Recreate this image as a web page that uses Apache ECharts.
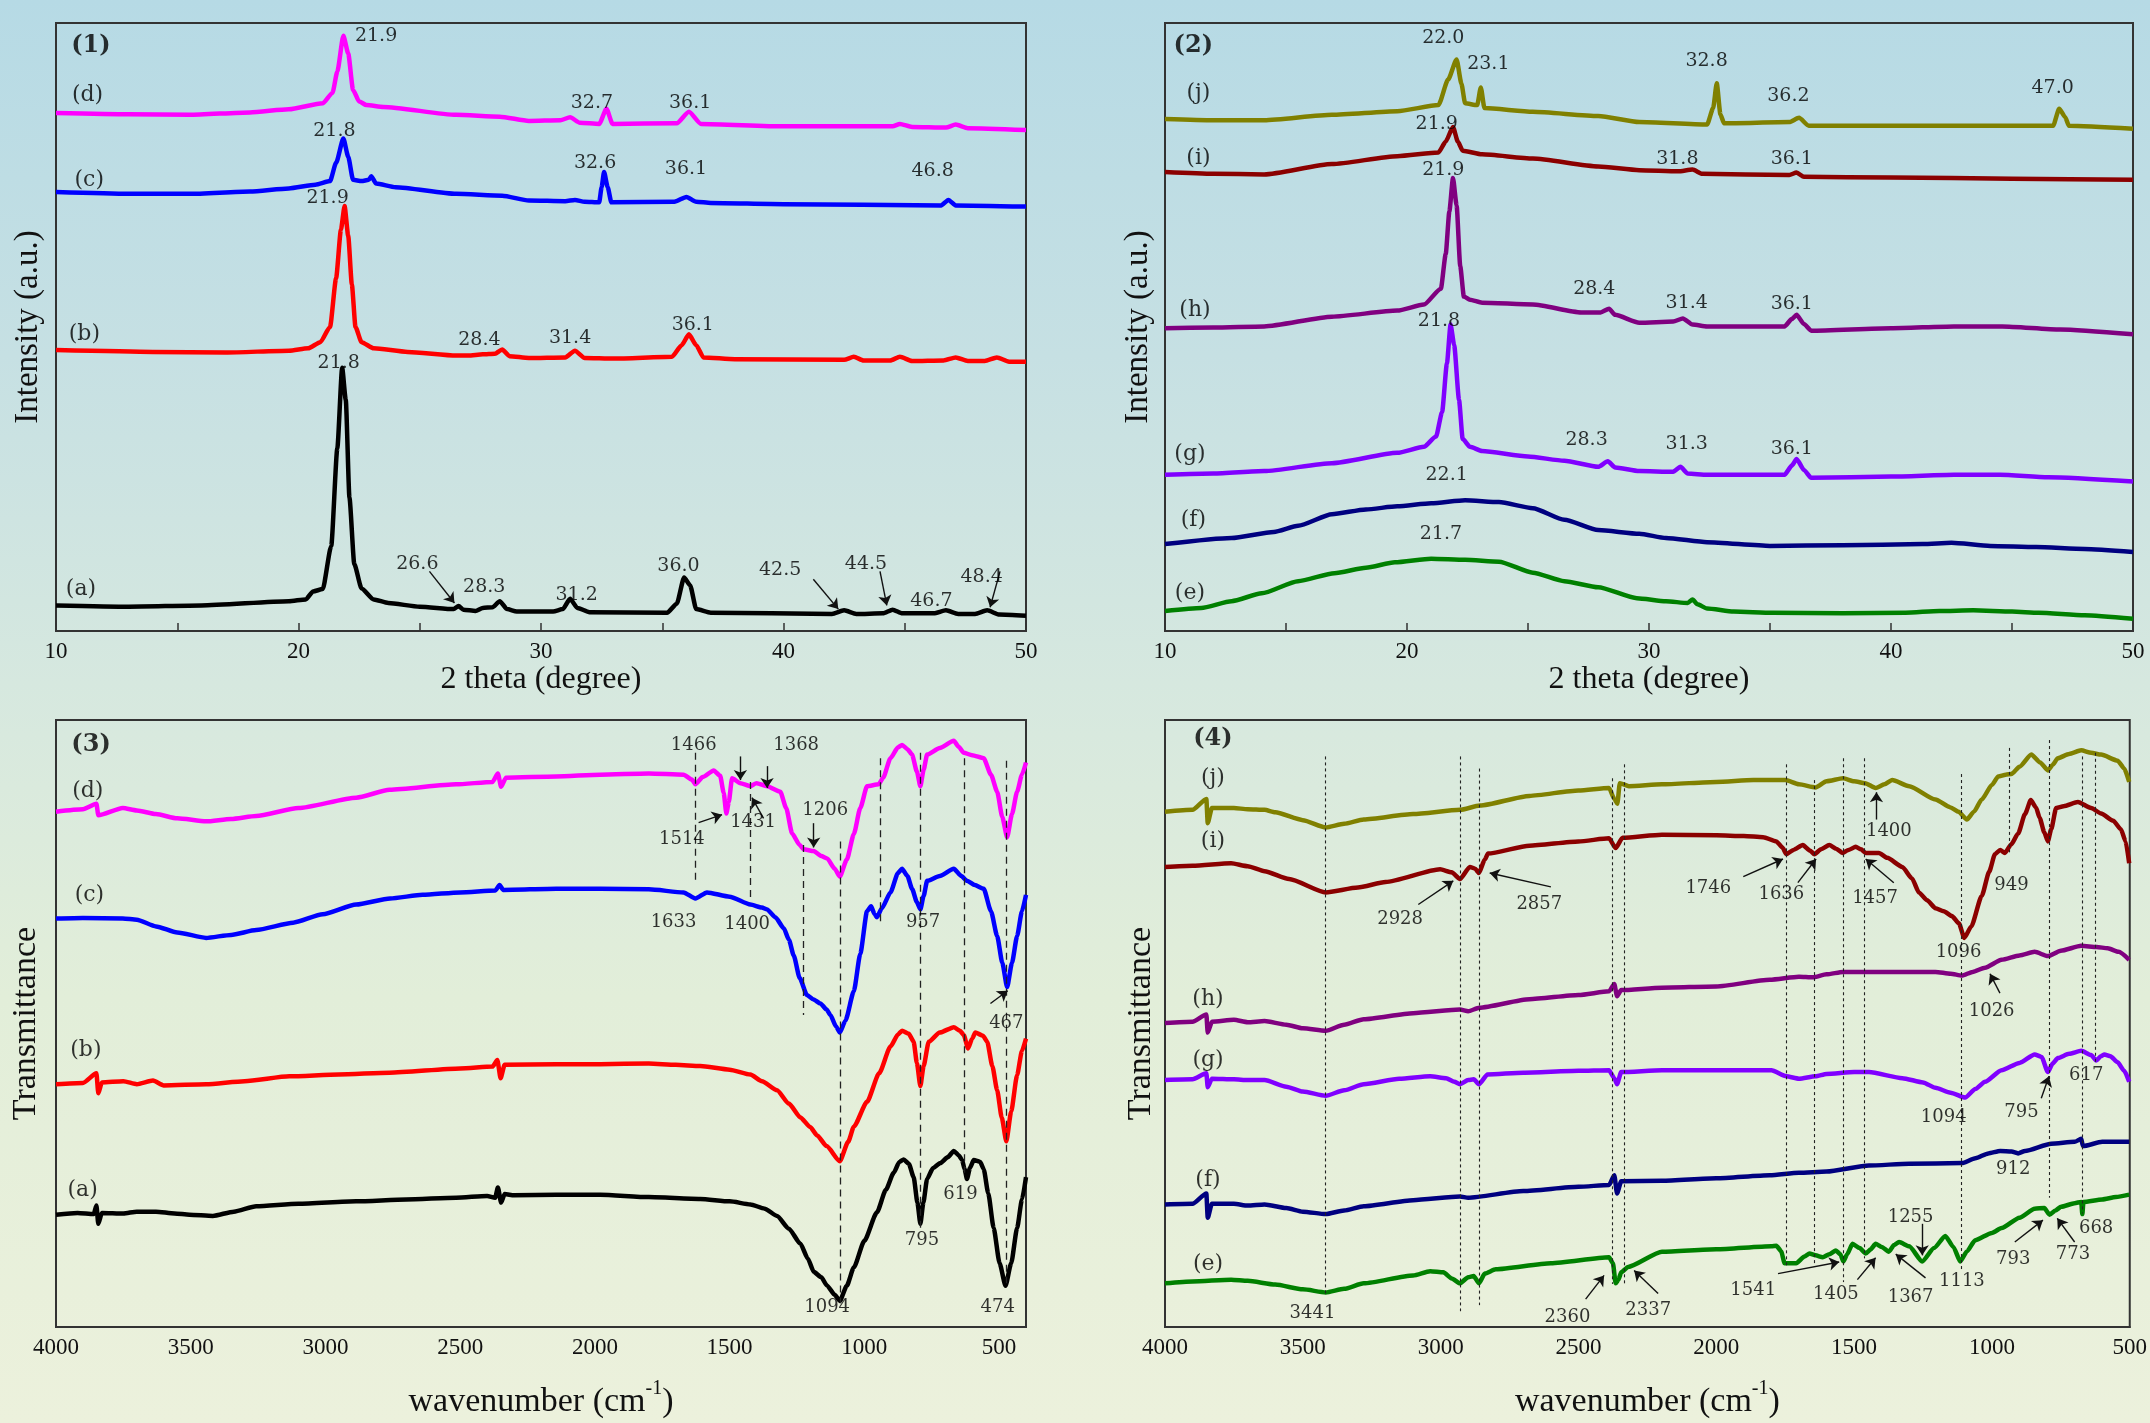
<!DOCTYPE html>
<html>
<head>
<meta charset="utf-8">
<title>XRD / FTIR</title>
<script src="https://cdn.jsdelivr.net/npm/echarts@6/dist/echarts.min.js"></script>
<style>
  html, body { margin: 0; padding: 0; }
  body {
    background: linear-gradient(to bottom, #b6dae5 0%, #c6e0e3 25%, #d6e8df 48%, #e2eed9 70%, #ecf1dc 100%);
  }
  #chart { width: 2150px; height: 1423px; }
</style>
</head>
<body>
<div id="chart"></div>
<script>
// ---- panel (1): XRD, 2 theta vs intensity (a.u., 0-100 of the frame height)
const xrdA = [[10,4.2],[13,4.0],[16,4.2],[19.6,4.9],[20.3,5.2],[20.6,6.5],[21.0,6.9],[21.35,14],[21.6,30],[21.8,43.3],[21.95,38],[22.1,22],[22.3,11],[22.6,7],[23.1,5.2],[23.7,4.6],[25,4.0],[26.4,3.6],[26.6,4.1],[26.8,3.5],[27.3,3.3],[27.6,3.8],[28.0,3.9],[28.3,4.9],[28.6,3.6],[29,3.2],[30.5,3.2],[30.9,3.6],[31.2,5.3],[31.5,3.8],[32,3.1],[35.2,3.0],[35.6,4.5],[35.9,8.8],[36.15,7.5],[36.4,3.6],[37,3.0],[42.0,2.8],[42.5,3.4],[43,2.8],[44.1,2.9],[44.5,3.5],[44.9,2.9],[46.2,2.9],[46.7,3.4],[47.2,2.8],[47.9,2.8],[48.4,3.4],[48.9,2.7],[50,2.5]];
const xrdB = [[10,46.2],[14,45.9],[17,45.8],[19.6,46.1],[20.4,46.5],[20.9,47.5],[21.3,50],[21.55,58],[21.75,66],[21.9,69.9],[22.05,65],[22.2,57],[22.35,50],[22.6,47.5],[23.1,46.5],[24.5,45.9],[26.5,45.3],[27.0,45.3],[27.6,45.5],[28.1,45.6],[28.4,46.3],[28.7,45.2],[29.5,44.9],[31.0,45.0],[31.4,46.1],[31.8,44.9],[33,44.8],[35.4,45.1],[35.8,47],[36.1,48.8],[36.4,47.0],[36.7,45.0],[38,44.7],[42.5,44.6],[42.9,45.1],[43.3,44.5],[44.4,44.5],[44.8,45.1],[45.3,44.4],[46.6,44.5],[47.1,45.0],[47.6,44.4],[48.3,44.4],[48.8,45.0],[49.3,44.3],[50,44.3]];
const xrdC = [[10,72.2],[13,71.9],[15.5,71.9],[18,72.3],[19.6,72.8],[20.7,73.4],[21.3,74],[21.55,77],[21.85,81.0],[22.05,78],[22.25,74.2],[22.6,74.0],[22.9,74.2],[23.0,74.8],[23.2,73.6],[24,73.0],[26.5,71.9],[28.4,71.6],[29.5,70.8],[31.0,70.7],[31.4,70.9],[31.8,70.6],[32.4,70.5],[32.5,73],[32.6,75.5],[32.75,73],[32.9,70.5],[35.5,70.6],[36.0,71.4],[36.4,70.6],[37,70.4],[40,70.2],[46.5,70.0],[46.8,70.9],[47.1,70.0],[50,69.8]];
const xrdD = [[10,85.2],[13,85.0],[15.5,84.9],[18,85.3],[19.6,85.8],[21.0,86.8],[21.4,88.5],[21.6,92],[21.85,97.9],[22.05,95],[22.25,89],[22.5,87.1],[22.8,86.5],[23.5,86.2],[26.5,84.9],[28.3,84.6],[29.5,83.9],[30.8,84.0],[31.2,84.5],[31.6,83.6],[32.4,83.4],[32.7,85.9],[32.95,83.4],[35.6,83.5],[36.1,85.4],[36.6,83.4],[40,83.0],[44.5,83.0],[44.8,83.4],[45.3,82.9],[46.7,82.8],[47.1,83.3],[47.6,82.7],[50,82.4]];

// ---- panel (2)
const xrdE = [[10,3.3],[11.5,3.8],[12.75,4.9],[14,6.2],[15.5,8.2],[17,9.5],[18.3,10.4],[19.5,11.3],[21,11.9],[22.4,11.7],[23.8,11.4],[25.2,9.6],[26.5,8.2],[27.9,7.2],[29.5,5.4],[30.7,4.9],[31.6,4.6],[31.8,5.2],[32.0,4.4],[32.4,3.7],[33.5,3.2],[35.1,3.0],[38,2.9],[40.6,3.0],[42,3.3],[43.4,3.4],[45,3.2],[46.1,3.0],[48,2.6],[50,2.0]];
const xrdF = [[10,14.3],[12.75,15.3],[14.5,16.3],[15.5,17.3],[16.9,19.2],[18.3,20.0],[19.6,20.5],[21,21.0],[22.4,21.5],[23.8,21.2],[25.2,20.2],[26.5,18.3],[27.9,16.6],[29.6,16.0],[30.7,15.3],[32.4,14.6],[35,14.0],[38,14.1],[41.3,14.3],[42.5,14.5],[44.1,14.0],[46,13.8],[48,13.5],[50,13.0]];
const xrdG = [[10,25.7],[12,25.9],[14.1,26.3],[16.9,27.6],[19.6,29.3],[20.7,30.3],[21.2,32],[21.45,36],[21.65,44],[21.8,50.4],[21.95,47],[22.15,38],[22.3,31.6],[22.6,30.3],[23.1,29.6],[25,28.7],[26.5,28.0],[27.9,27.0],[28.3,27.9],[28.6,26.9],[29.6,26.3],[31.0,26.2],[31.3,27.0],[31.6,25.9],[32.4,25.7],[35.6,25.7],[35.9,27.2],[36.1,28.3],[36.4,26.5],[36.7,25.2],[40,25.4],[42.6,25.7],[44.5,25.7],[46.5,25.3],[50,24.6]];
const xrdH = [[10,49.8],[12,49.9],[14.1,50.1],[16.9,51.7],[19.6,52.7],[20.7,53.7],[21.4,56.3],[21.6,62],[21.75,69],[21.9,74.5],[22.05,70],[22.2,60],[22.35,55],[22.6,54.5],[23.1,54.0],[25.2,53.7],[27.2,52.4],[28.0,52.4],[28.35,53.0],[28.6,52.0],[29.6,50.7],[31.0,50.9],[31.4,51.4],[31.8,50.4],[32.4,50.1],[35.6,50.1],[35.9,51.3],[36.1,52.0],[36.4,50.5],[36.7,49.4],[40,49.8],[42.6,50.1],[44.6,50.1],[47,49.6],[50,48.8]];
const xrdI = [[10,75.5],[12,75.2],[14.1,75.1],[16.9,76.8],[19.6,78.1],[21.3,78.7],[21.6,80.5],[21.9,82.9],[22.1,80.5],[22.3,79.0],[23.1,78.4],[25.2,77.7],[27.9,76.4],[29.6,75.8],[31.2,75.6],[31.8,75.9],[32.2,75.2],[35.8,75.0],[36.1,75.4],[36.4,74.7],[40,74.6],[45,74.4],[50,74.2]];
const xrdJ = [[10,84.2],[12,84.0],[14.1,84.0],[16.9,84.9],[19.6,85.5],[21.3,86.5],[21.7,90.7],[22.05,94.0],[22.25,90],[22.4,86.8],[22.9,86.5],[23.05,89.4],[23.2,86.0],[25.2,85.4],[27.9,84.7],[29.6,83.7],[32.4,83.3],[32.65,86],[32.8,90.1],[32.95,85],[33.1,83.5],[35.8,83.7],[36.2,84.4],[36.6,83.1],[40,83.1],[46.7,83.1],[46.95,85.9],[47.2,84.5],[47.35,83.1],[50,82.6]];

// ---- panel (3): FTIR, wavenumber vs transmittance (0-100 of the frame height)
const irA = [[4000,18.5],[3920,18.8],[3860,18.6],[3850,20.0],[3843,17.0],[3830,18.8],[3750,18.7],[3700,19.0],[3629,19.0],[3560,18.7],[3505,18.5],[3418,18.3],[3340,19.0],[3257,19.9],[3100,20.3],[2886,20.7],[2700,21.0],[2515,21.3],[2400,21.6],[2370,21.3],[2360,23.0],[2348,20.5],[2335,21.9],[2300,21.7],[2143,21.8],[1980,21.8],[1800,21.4],[1609,21.1],[1500,20.7],[1423,20.2],[1370,19.5],[1324,18.3],[1280,16.2],[1237,13.7],[1210,11.3],[1188,9.1],[1160,8.2],[1138,6.8],[1110,5.3],[1091,4.3],[1065,6.8],[1039,9.8],[1000,14.2],[953,18.9],[920,22.6],[891,25.4],[870,27.2],[854,27.6],[835,26.9],[817,24.7],[803,20.5],[792,17.0],[781,20.5],[767,24.4],[745,26.2],[718,27.0],[690,28.0],[668,29.0],[650,28.3],[637,27.5],[628,26.0],[619,24.4],[608,26.2],[594,27.5],[570,27.2],[557,26.0],[540,22.0],[520,16.3],[498,10.5],[476,6.8],[455,10.5],[433,16.3],[415,21.0],[400,24.7]];
const irB = [[4000,40.0],[3900,40.2],[3850,41.8],[3843,38.5],[3830,40.3],[3750,40.5],[3700,40.0],[3640,40.6],[3600,39.8],[3443,40.0],[3300,40.5],[3134,41.3],[2950,41.6],[2762,41.9],[2500,42.6],[2380,42.9],[2362,44.0],[2350,41.0],[2335,43.2],[2143,43.3],[1980,43.3],[1800,43.4],[1700,43.2],[1609,43.0],[1500,42.4],[1423,41.6],[1380,40.5],[1324,39.0],[1280,36.8],[1237,34.5],[1200,32.9],[1176,31.6],[1140,29.8],[1091,27.3],[1060,30.5],[1039,33.0],[990,37.1],[945,41.8],[903,46.2],[875,48.2],[860,48.8],[835,48.3],[817,47.0],[805,43.5],[792,39.7],[780,43.0],[761,47.0],[720,48.5],[668,49.4],[645,48.8],[631,48.1],[615,45.9],[600,47.5],[588,48.5],[560,48.0],[544,47.0],[525,43.0],[507,39.0],[490,34.5],[473,30.6],[455,35.5],[433,41.5],[415,45.5],[400,47.5]];
const irC = [[4000,67.3],[3900,67.4],[3752,67.3],[3700,67.1],[3629,66.0],[3550,65.0],[3443,64.1],[3350,64.6],[3257,65.4],[3120,66.6],[3010,68.0],[2886,69.6],[2760,70.6],[2639,71.2],[2500,71.6],[2370,71.9],[2354,72.8],[2340,72.0],[2143,72.2],[1980,72.2],[1800,72.1],[1671,71.6],[1627,70.6],[1584,71.6],[1500,70.9],[1423,69.6],[1380,69.1],[1361,68.8],[1330,67.5],[1299,65.7],[1280,63.8],[1262,61.2],[1240,57.5],[1213,54.7],[1190,54.0],[1163,53.3],[1140,52.3],[1126,51.4],[1105,49.5],[1091,48.5],[1070,50.5],[1039,55.3],[1015,61.5],[990,68.5],[975,69.3],[962,68.0],[953,67.5],[935,69.0],[903,71.6],[875,74.8],[860,75.5],[840,74.3],[823,72.2],[805,70.0],[792,68.8],[780,71.0],[767,73.5],[720,74.3],[668,75.5],[640,74.3],[619,73.5],[590,72.8],[557,72.2],[530,68.5],[507,64.4],[488,60.0],[470,56.0],[452,60.0],[433,64.4],[415,68.5],[400,71.2]];
const irD = [[4000,84.9],[3900,85.3],[3850,86.2],[3843,84.3],[3752,85.5],[3700,85.1],[3629,84.5],[3550,83.8],[3443,83.3],[3350,83.7],[3257,84.2],[3100,85.5],[2886,87.2],[2762,88.5],[2515,89.4],[2380,89.8],[2360,91.2],[2348,89.0],[2330,90.5],[2143,90.7],[1980,91.0],[1800,91.2],[1671,91.0],[1640,90.2],[1627,89.4],[1600,90.6],[1559,91.7],[1535,90.8],[1522,88.0],[1512,84.6],[1503,86.5],[1491,90.4],[1460,89.6],[1423,89.1],[1400,89.6],[1361,89.1],[1312,88.2],[1290,85.5],[1268,81.3],[1240,79.4],[1225,78.7],[1188,78.4],[1160,77.6],[1138,77.2],[1110,75.5],[1091,74.2],[1065,77.0],[1039,81.2],[1015,85.5],[990,89.1],[947,89.4],[930,90.5],[903,93.7],[875,95.5],[860,95.9],[840,95.2],[823,94.3],[805,91.5],[792,89.1],[780,91.8],[767,94.3],[720,95.4],[668,96.6],[650,95.6],[631,94.6],[600,94.2],[557,93.7],[530,91.0],[507,88.2],[488,84.0],[470,80.7],[452,84.5],[433,88.2],[415,91.0],[400,93.0]];

// ---- panel (4)
const irE = [[4000,7.2],[3900,7.5],[3760,7.8],[3700,7.6],[3600,7.0],[3500,6.2],[3417,5.7],[3350,6.3],[3279,7.2],[3100,8.5],[3038,9.2],[2990,9.0],[2960,8.0],[2930,7.2],[2900,8.2],[2880,8.4],[2861,7.2],[2840,8.8],[2800,9.5],[2600,10.5],[2389,11.5],[2375,10.5],[2365,7.2],[2355,7.8],[2345,9.0],[2320,9.9],[2197,12.4],[2000,12.8],[1800,13.3],[1782,13.4],[1765,12.5],[1752,10.5],[1710,10.5],[1680,11.6],[1662,12.1],[1640,11.8],[1614,11.5],[1590,12.0],[1566,12.6],[1550,12.0],[1539,10.8],[1525,12.0],[1506,13.7],[1480,13.0],[1458,12.1],[1440,12.8],[1422,13.7],[1400,13.2],[1374,12.4],[1355,13.5],[1337,14.0],[1300,13.3],[1253,10.8],[1210,13.0],[1169,15.0],[1140,13.2],[1115,10.8],[1090,12.5],[1061,14.3],[1000,15.5],[965,16.3],[900,18.0],[845,19.5],[810,19.6],[791,18.5],[770,19.2],[749,19.8],[700,20.4],[676,20.6],[672,18.6],[668,20.6],[600,21.0],[550,21.4],[502,21.8]];
const irF = [[4000,20.2],[3900,20.3],[3850,22.0],[3845,18.0],[3830,20.3],[3750,20.3],[3700,20.0],[3639,20.2],[3560,19.6],[3500,19.0],[3417,18.6],[3350,19.2],[3279,19.9],[3100,20.9],[2930,21.5],[2900,21.3],[2700,22.4],[2500,23.1],[2389,23.4],[2370,25.0],[2360,22.0],[2345,24.0],[2197,24.1],[2000,24.5],[1806,25.0],[1700,25.4],[1600,25.6],[1446,26.6],[1300,26.9],[1109,27.0],[1060,27.8],[1013,28.6],[970,29.0],[929,28.9],[905,28.6],[880,29.0],[785,30.2],[700,30.5],[676,31.0],[670,29.8],[600,30.5],[502,30.5]];
const irG = [[4000,40.7],[3900,40.8],[3850,41.8],[3845,39.5],[3830,40.9],[3750,40.8],[3700,40.7],[3639,40.7],[3560,39.6],[3500,38.8],[3417,38.1],[3350,39.0],[3279,40.0],[3150,40.9],[3038,41.3],[2980,41.0],[2950,40.4],[2930,40.0],[2900,40.7],[2880,40.8],[2861,40.0],[2830,41.6],[2700,41.9],[2500,42.2],[2389,42.3],[2370,41.0],[2360,40.0],[2345,42.0],[2197,42.3],[2000,42.3],[1800,42.3],[1746,41.3],[1700,40.9],[1640,41.3],[1600,41.7],[1500,42.0],[1446,42.0],[1325,41.0],[1250,40.3],[1205,39.4],[1150,38.6],[1097,37.8],[1060,39.2],[1025,40.4],[965,42.3],[900,43.5],[845,44.9],[820,44.5],[797,42.0],[780,43.4],[761,44.3],[720,45.0],[676,45.5],[640,44.8],[622,43.9],[605,44.6],[592,44.9],[570,44.6],[544,43.6],[520,42.2],[502,40.4]];
const irH = [[4000,50.1],[3900,50.3],[3850,51.5],[3845,48.5],[3830,50.3],[3750,50.6],[3700,50.2],[3639,50.4],[3560,49.8],[3500,49.2],[3417,48.8],[3350,49.8],[3279,50.7],[3100,51.7],[2930,52.3],[2900,52.0],[2860,52.6],[2678,54.0],[2500,54.7],[2389,55.3],[2370,56.5],[2360,54.5],[2345,55.5],[2197,55.9],[2000,56.1],[1806,57.2],[1700,57.7],[1650,57.6],[1600,58.1],[1540,58.5],[1446,58.5],[1300,58.5],[1205,58.5],[1150,58.2],[1109,57.9],[1070,58.5],[1025,59.2],[965,60.5],[900,61.2],[845,61.8],[797,61.1],[750,62.0],[676,62.8],[620,62.6],[580,62.4],[540,61.8],[502,60.5]];
const irI = [[4000,75.8],[3900,76.0],[3760,76.4],[3700,75.9],[3639,75.1],[3550,73.8],[3417,71.6],[3300,72.4],[3200,73.3],[3002,75.4],[2960,74.9],[2930,73.8],[2894,75.8],[2875,75.5],[2861,74.8],[2840,77.0],[2828,78.0],[2678,79.3],[2500,80.0],[2389,80.5],[2365,78.9],[2340,80.6],[2197,81.1],[2000,81.0],[1900,80.9],[1830,80.7],[1782,80.0],[1760,79.0],[1746,77.9],[1720,78.6],[1686,79.4],[1660,78.5],[1644,77.9],[1620,78.7],[1590,79.4],[1565,78.8],[1542,78.1],[1520,78.6],[1494,79.1],[1475,78.7],[1458,78.1],[1410,78.1],[1380,77.3],[1325,75.8],[1290,73.9],[1265,71.6],[1235,70.3],[1205,69.0],[1175,68.5],[1145,67.7],[1120,66.5],[1100,64.1],[1075,66.0],[1037,71.0],[1010,75.0],[989,77.9],[970,78.6],[953,78.1],[930,79.5],[905,81.3],[880,84.5],[859,86.8],[840,85.6],[827,83.9],[810,81.5],[797,80.0],[785,82.0],[767,85.5],[740,85.8],[688,86.5],[640,85.5],[604,84.6],[560,83.4],[532,82.0],[515,80.0],[502,76.4]];
const irJ = [[4000,84.9],[3900,85.2],[3850,87.0],[3845,83.0],[3830,85.5],[3750,85.5],[3700,85.3],[3639,85.2],[3600,84.8],[3500,83.5],[3417,82.3],[3350,82.9],[3279,83.6],[3100,84.5],[2930,85.2],[2858,85.9],[2678,87.5],[2500,88.4],[2389,88.8],[2370,87.0],[2359,86.2],[2350,89.6],[2317,89.1],[2197,89.4],[2000,89.8],[1866,90.1],[1750,90.1],[1700,89.4],[1640,88.9],[1600,89.9],[1540,90.4],[1500,89.9],[1460,89.6],[1422,88.8],[1390,89.4],[1362,90.1],[1300,89.1],[1205,86.9],[1150,85.6],[1121,84.9],[1091,83.6],[1065,84.9],[1037,86.9],[1000,89.3],[977,90.7],[950,91.0],[929,91.1],[900,92.3],[857,94.3],[825,93.0],[797,91.7],[780,92.6],[761,93.7],[720,94.4],[676,95.0],[640,94.6],[604,94.3],[544,93.3],[520,92.0],[502,89.8]];

// ---- annotations: [x, y, text]
const panelTags = [[11.44, 96.2, '(1)'], [11.17, 96.2, '(2)'], [3870, 95.9, '(3)'], [3826, 96.9, '(4)']];
const xrd1Tags = [[11.03,6.8,'(a)'],[11.17,48.8,'(b)'],[11.37,74.1,'(c)'],[11.3,88.1,'(d)']];
const xrd1Peaks = [[23.2,97.9,'21.9'],[21.48,82.2,'21.8'],[21.2,71.2,'21.9'],[21.66,44.0,'21.8'],[24.9,11.0,'26.6'],[27.66,7.2,'28.3'],[27.46,47.8,'28.4'],[32.1,86.8,'32.7'],[36.15,86.8,'36.1'],[32.23,76.9,'32.6'],[35.98,75.9,'36.1'],[46.15,75.6,'46.8'],[31.2,48.2,'31.4'],[36.26,50.3,'36.1'],[31.47,5.9,'31.2'],[35.67,10.7,'36.0'],[39.86,10.1,'42.5'],[43.4,11.0,'44.5'],[46.1,4.9,'46.7'],[48.17,8.9,'48.4']];
const xrd2Tags = [[11.03,6.2,'(e)'],[11.17,18.2,'(f)'],[11.03,29.0,'(g)'],[11.24,52.7,'(h)'],[11.38,77.7,'(i)'],[11.38,88.5,'(j)']];
const xrd2Peaks = [[21.5,97.6,'22.0'],[23.36,93.2,'23.1'],[21.23,83.4,'21.9'],[21.5,75.8,'21.9'],[21.32,50.9,'21.8'],[27.74,56.3,'28.4'],[27.42,31.4,'28.3'],[21.64,25.7,'22.1'],[21.4,15.9,'21.7'],[32.38,93.7,'32.8'],[35.76,88.0,'36.2'],[46.68,89.3,'47.0'],[31.17,77.7,'31.8'],[35.9,77.6,'36.1'],[31.56,54.0,'31.4'],[35.9,53.7,'36.1'],[31.56,30.8,'31.3'],[35.9,29.9,'36.1']];
const ir3Tags = [[3901,22.5,'(a)'],[3889,45.6,'(b)'],[3876,71.2,'(c)'],[3882,88.2,'(d)']];
const ir3Peaks = [[1633,95.8,'1466'],[1253,95.8,'1368'],[1677,80.3,'1514'],[1413,83.1,'1431'],[1145,85.2,'1206'],[1708,66.7,'1633'],[1435,66.4,'1400'],[782,66.7,'957'],[473,50.1,'467'],[1138,3.3,'1094'],[786,14.3,'795'],[643,21.8,'619'],[505,3.3,'474']];
const ir4Tags = [[3844,10.4,'(e)'],[3844,24.1,'(f)'],[3844,43.9,'(g)'],[3844,54.0,'(h)'],[3826,80.1,'(i)'],[3826,90.4,'(j)']];
const ir4Peaks = [[3147,67.1,'2928'],[2642,69.7,'2857'],[3465,2.3,'3441'],[2540,1.6,'2360'],[2247,2.8,'2337'],[1374,81.6,'1400'],[2029,72.2,'1746'],[1764,71.2,'1636'],[1424,70.6,'1457'],[1121,61.8,'1096'],[929,72.7,'949'],[1001,52.0,'1026'],[1175,34.5,'1094'],[893,35.4,'795'],[658,41.5,'617'],[923,26.0,'912'],[1295,18.1,'1255'],[622,16.3,'668'],[923,11.2,'793'],[706,11.9,'773'],[1866,6.0,'1541'],[1566,5.4,'1405'],[1295,4.9,'1367'],[1109,7.5,'1113']];

// arrows: [x1, y1, x2, y2] (head at the second point)
const xrd1Arrows = [[25.4,9.8,26.43,4.6],[41.23,8.5,42.26,3.6],[43.98,9.8,44.26,4.2],[48.93,9.8,48.52,3.9]];
const ir3Arrows = [[1615,83.1,1528,84.4],[1374,83.8,1417,87.2],[1460,94.0,1460,90.1],[1361,92.4,1361,88.8],[1188,83.0,1188,79.0],[532,53.3,468,55.4]];
const ir4Arrows = [[3081,69.6,2954,73.5],[2600,72.5,2822,74.8],[2474,4.6,2407,8.5],[2211,5.5,2298,9.3],[1419,83.6,1419,88.1],[1902,74.2,1758,77.1],[1704,73.2,1638,77.1],[1356,73.2,1458,77.1],[971,55.0,1007,58.2],[821,37.7,793,41.3],[1776,8.8,1554,10.7],[1488,7.8,1422,11.4],[1241,8.1,1349,12.0],[1253,17.0,1253,11.8],[917,14.0,815,17.6],[700,14.0,763,17.9]];

// vertical guide lines: [x, yTop, yBottom]
const ir3Guides = [[1627,94.6,72.9],[1423,89.8,70.3],[1225,79.4,51.4],[1091,80.0,3.9],[940,93.7,66.3],[792,94.6,16.3],[629,93.7,25.4],[475,93.3,7.2]];
const ir4Guides = [[3417,94.0,5.3],[2930,94.0,2.6],[2861,92.0,3.6],[2377,90.4,7.1],[2335,92.7,7.1],[1746,92.7,10.0],[1644,90.1,10.3],[1539,93.7,7.4],[1464,93.7,11.3],[1112,91.1,9.3],[938,95.4,78.2],[793,96.7,21.3],[673,94.0,18.7],[625,94.6,43.3]];

const irTicks3 = [4000, 3500, 3000, 2500, 2000, 1500, 1000, 500];

const SERIF = 'Liberation Serif';
const ANNO = 'DejaVu Serif';

const chart = echarts.init(document.getElementById('chart'));

function curve(gi, data, color) {
  return {
    type: 'line', xAxisIndex: gi, yAxisIndex: gi, data: data,
    symbol: 'none', smooth: 0.2, smoothMonotone: 'x', silent: true, z: 3,
    lineStyle: { color: color, width: 4.5, join: 'round' }
  };
}

function texts(gi, list, style) {
  return {
    type: 'scatter', xAxisIndex: gi, yAxisIndex: gi, silent: true, z: 5,
    symbolSize: 1, itemStyle: { color: 'rgba(0,0,0,0)' },
    data: list.map(d => ({ value: [d[0], d[1]], name: d[2] })),
    label: Object.assign({ show: true, position: 'inside', formatter: '{b}', color: '#000' }, style)
  };
}

// arrow shafts and heads come from markLine symbols
function arrows(gi, list) {
  return {
    type: 'scatter', xAxisIndex: gi, yAxisIndex: gi, silent: true, z: 4,
    symbolSize: 0, itemStyle: { color: '#111', opacity: 0 }, data: [list[0].slice(0, 2)],
    markLine: {
      silent: true, animation: false, symbol: ['none', 'arrow'], symbolSize: 10,
      label: { show: false },
      itemStyle: { color: '#111', opacity: 1 },
      lineStyle: { color: '#111', width: 1.4, type: 'solid', opacity: 1 },
      data: list.map(a => [{ coord: [a[0], a[1]] }, { coord: [a[2], a[3]] }])
    }
  };
}

function guides(gi, list, dash, width) {
  return {
    type: 'scatter', xAxisIndex: gi, yAxisIndex: gi, silent: true, z: 1,
    symbolSize: 0, itemStyle: { color: 'rgba(0,0,0,0)' }, data: [[list[0][0], list[0][1]]],
    markLine: {
      silent: true, animation: false, symbol: ['none', 'none'],
      label: { show: false },
      lineStyle: { color: '#222', width: width, type: dash, opacity: 1 },
      data: list.map(g => [{ coord: [g[0], g[1]] }, { coord: [g[0], g[2]] }])
    }
  };
}

const frame = { show: true, borderColor: '#333', borderWidth: 2, backgroundColor: 'transparent' };
const grids = [
  Object.assign({ left: 56, top: 23, width: 970, height: 608 }, frame),
  Object.assign({ left: 1165, top: 23, width: 968, height: 608 }, frame),
  Object.assign({ left: 56, top: 720, width: 970, height: 607 }, frame),
  Object.assign({ left: 1165, top: 720, width: 968, height: 607 }, frame)
];

const plain = v => String(v);
const tickLabel = { color: '#111', fontFamily: SERIF, fontSize: 23, margin: 9, formatter: plain };
const axisLine = { show: true, lineStyle: { color: '#333', width: 2 } };

function xrdAxis(gi) {
  return {
    type: 'value', gridIndex: gi, min: 10, max: 50, interval: 10,
    name: '2 theta (degree)', nameLocation: 'middle', nameGap: 30,
    nameTextStyle: { fontFamily: SERIF, fontSize: 32, color: '#111' },
    axisLine: axisLine,
    axisTick: { show: true, inside: true, length: 8, lineStyle: { color: '#333', width: 1.5 } },
    minorTick: { show: true, splitNumber: 2, length: 8, lineStyle: { color: '#333', width: 1.5 } },
    axisLabel: tickLabel, splitLine: { show: false }
  };
}

const waveName = '{a|wavenumber (cm}{s|-1}{a|)}';
const waveStyle = {
  rich: {
    a: { fontFamily: SERIF, fontSize: 34, color: '#111', lineHeight: 40, verticalAlign: 'bottom' },
    s: { fontFamily: SERIF, fontSize: 20, color: '#111', lineHeight: 40, verticalAlign: 'top' }
  }
};

function irAxis(gi, min, custom) {
  const ax = {
    type: 'value', gridIndex: gi, min: min, max: 4000, inverse: true,
    name: waveName, nameLocation: 'middle', nameGap: 52, nameTextStyle: waveStyle,
    axisLine: axisLine, axisTick: { show: false },
    axisLabel: Object.assign({}, tickLabel), splitLine: { show: false }
  };
  if (custom) ax.axisLabel.customValues = custom;
  else ax.interval = 500;
  return ax;
}

function yAxis(gi, name, size, gap) {
  return {
    type: 'value', gridIndex: gi, min: 0, max: 100,
    name: name, nameLocation: 'middle', nameGap: gap,
    nameTextStyle: { fontFamily: SERIF, fontSize: size, color: '#111' },
    axisLine: axisLine, axisTick: { show: false }, axisLabel: { show: false },
    splitLine: { show: false }
  };
}

const tagStyle = { fontFamily: ANNO, fontSize: 22 };
const peakStyle = { fontFamily: ANNO, fontSize: 19 };
const irPeakStyle = { fontFamily: ANNO, fontSize: 18 };
const boldStyle = { fontFamily: ANNO, fontSize: 24, fontWeight: 'bold' };

chart.setOption({
  animation: false,
  backgroundColor: 'transparent',
  grid: grids,
  xAxis: [xrdAxis(0), xrdAxis(1), irAxis(2, 400, irTicks3), irAxis(3, 500, null)],
  yAxis: [
    yAxis(0, 'Intensity (a.u.)', 33, 11),
    yAxis(1, 'Intensity (a.u.)', 33, 10),
    yAxis(2, 'Transmittance', 34, 13),
    yAxis(3, 'Transmittance', 34, 7)
  ],
  series: [
    curve(0, xrdA, '#000000'), curve(0, xrdB, '#ff0000'), curve(0, xrdC, '#0000ff'), curve(0, xrdD, '#ff00ff'),
    curve(1, xrdE, '#008000'), curve(1, xrdF, '#000080'), curve(1, xrdG, '#8000ff'),
    curve(1, xrdH, '#800080'), curve(1, xrdI, '#8b0000'), curve(1, xrdJ, '#808000'),
    curve(2, irA, '#000000'), curve(2, irB, '#ff0000'), curve(2, irC, '#0000ff'), curve(2, irD, '#ff00ff'),
    curve(3, irE, '#008000'), curve(3, irF, '#000080'), curve(3, irG, '#8000ff'),
    curve(3, irH, '#800080'), curve(3, irI, '#8b0000'), curve(3, irJ, '#808000'),
    guides(2, ir3Guides, [7, 5], 1.3),
    guides(3, ir4Guides, [3, 3], 1.1),
    arrows(0, xrd1Arrows), arrows(2, ir3Arrows), arrows(3, ir4Arrows),
    texts(0, [panelTags[0]], boldStyle), texts(1, [panelTags[1]], boldStyle),
    texts(2, [panelTags[2]], boldStyle), texts(3, [panelTags[3]], boldStyle),
    texts(0, xrd1Tags, tagStyle), texts(1, xrd2Tags, tagStyle),
    texts(2, ir3Tags, tagStyle), texts(3, ir4Tags, tagStyle),
    texts(0, xrd1Peaks, peakStyle), texts(1, xrd2Peaks, peakStyle),
    texts(2, ir3Peaks, irPeakStyle), texts(3, ir4Peaks, irPeakStyle)
  ]
});

window.addEventListener('resize', () => chart.resize());
</script>
</body>
</html>
